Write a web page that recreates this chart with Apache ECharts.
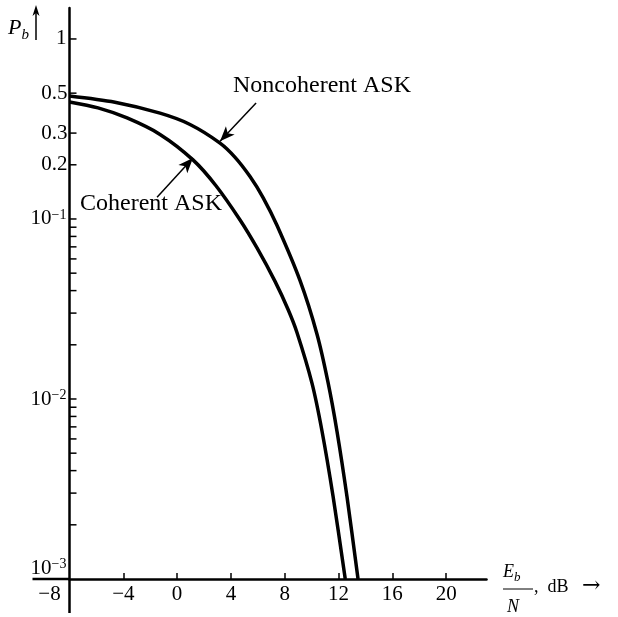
<!DOCTYPE html>
<html>
<head>
<meta charset="utf-8">
<script src="https://cdn.jsdelivr.net/npm/echarts@6/dist/echarts.min.js"></script>
<style>
html, body { margin: 0; padding: 0; background: #fff; }
#main { width: 618px; height: 617px; }
</style>
</head>
<body>
<div id="main"></div>
<script>
// Eb/N in dB and the bit error probability
var coherentDb = [-8, -5.88, -3.72, -1.27, 1.18, 2.89, 4.68, 5.94, 7.28, 8.25, 8.91, 10.03, 10.77, 11.59, 12.5];
var coherentPb = [0.447, 0.414, 0.364, 0.295, 0.213, 0.153, 0.0987, 0.069, 0.045, 0.0314, 0.0234, 0.0122, 0.00664, 0.00289, 0.001];

var noncohDb = [-8, -4.62, -1.27, 0.96, 3.19, 4.31, 5.42, 6.39, 7.43, 9.14, 10.4, 11.22, 11.89, 12.63, 13.45];
var noncohPb = [0.482, 0.445, 0.387, 0.335, 0.264, 0.22, 0.172, 0.1315, 0.0919, 0.0454, 0.0229, 0.01236, 0.00658, 0.00286, 0.001];

// axis ticks and labels
var xTicks = [-4, 0, 4, 8, 12, 16, 20];
var xLabels = [-8, -4, 0, 4, 8, 12, 16, 20];
var yTicks = [0.002, 0.003, 0.004, 0.005, 0.006, 0.007, 0.008, 0.009, 0.01,
    0.02, 0.03, 0.04, 0.05, 0.06, 0.07, 0.08, 0.09, 0.1, 0.2, 0.3, 0.5, 1];
var yExtraLabels = [0.5, 0.3, 0.2];

var FONT = 'Liberation Serif';

function pairs(xs, ys) {
    var out = [];
    for (var i = 0; i < xs.length; i++) {
        out.push([xs[i], ys[i]]);
    }
    return out;
}

var chart = echarts.init(document.getElementById('main'));

chart.setOption({
    animation: false,
    backgroundColor: '#fff',
    grid: {
        left: 69.5,
        right: 131.5,
        top: 8,
        bottom: 38,
        containLabel: false,
        outerBoundsMode: 'none'
    },
    xAxis: {
        type: 'value',
        min: -8,
        max: 23,
        interval: 4,
        splitLine: { show: false },
        axisLine: { onZero: false, lineStyle: { color: '#000', width: 2.5 } },
        axisTick: {
            show: true,
            inside: true,
            length: 6,
            customValues: xTicks,
            lineStyle: { color: '#000', width: 1.5 }
        },
        axisLabel: {
            customValues: xLabels,
            margin: 5,
            color: '#000',
            fontFamily: FONT,
            fontSize: 21,
            formatter: function (v) {
                var s = (v < 0 ? '\u2212' : '') + Math.abs(v);
                if (v === -8) {
                    return '{left|' + s + '}';
                }
                return s;
            },
            rich: {
                left: { fontFamily: FONT, fontSize: 21, color: '#000', padding: [0, 40, 0, 0] }
            }
        }
    },
    yAxis: {
        type: 'log',
        logBase: 10,
        min: 0.001,
        max: 1.486,
        splitLine: { show: false },
        axisLine: { onZero: false, lineStyle: { color: '#000', width: 2.5 } },
        axisTick: { show: false },
        axisLabel: {
            margin: 3,
            color: '#000',
            formatter: function (v) {
                var l = Math.log(v) / Math.LN10;
                var e = Math.round(l);
                if (Math.abs(l - e) > 1e-6) {
                    return '';
                }
                if (e === 0) {
                    return '{b|1}';
                }
                if (e === -3) {
                    return '{lo|10}{losup|\u2212' + (-e) + '}';
                }
                return '{b|10}{sup|\u2212' + (-e) + '}';
            },
            rich: {
                b: { fontFamily: FONT, fontSize: 21, color: '#000' },
                sup: { fontFamily: FONT, fontSize: 14, color: '#000', verticalAlign: 'top' },
                lo: { fontFamily: FONT, fontSize: 21, color: '#000', padding: [0, 0, 22, 0] },
                losup: { fontFamily: FONT, fontSize: 14, color: '#000', verticalAlign: 'top' }
            }
        }
    },
    graphic: [
        {
            type: 'text',
            left: 8,
            top: 17,
            style: {
                text: '{i|P}{s|b}',
                fill: '#000',
                rich: {
                    i: { fontFamily: FONT, fontStyle: 'italic', fontSize: 22, fill: '#000', verticalAlign: 'bottom' },
                    s: { fontFamily: FONT, fontStyle: 'italic', fontSize: 15, fill: '#000', verticalAlign: 'bottom', padding: [0, 0, -4, 0] }
                }
            }
        },
        {
            type: 'polyline',
            shape: { points: [[36, 40], [36, 10]] },
            style: { stroke: '#000', lineWidth: 1.5 }
        },
        {
            type: 'polygon',
            shape: { points: [[36, 5], [32.5, 16], [36, 13], [39.5, 16]] },
            style: { fill: '#000' }
        },
        {
            type: 'text',
            left: 503,
            top: 563,
            style: {
                text: '{i|E}{s|b}',
                fill: '#000',
                rich: {
                    i: { fontFamily: FONT, fontStyle: 'italic', fontSize: 18, fill: '#000', verticalAlign: 'bottom' },
                    s: { fontFamily: FONT, fontStyle: 'italic', fontSize: 13, fill: '#000', verticalAlign: 'bottom', padding: [0, 0, -3, 0] }
                }
            }
        },
        {
            type: 'line',
            shape: { x1: 503, y1: 589, x2: 533, y2: 589 },
            style: { stroke: '#000', lineWidth: 1 }
        },
        {
            type: 'text',
            left: 507,
            top: 598,
            style: { text: 'N', fill: '#000', font: 'italic 18px "Liberation Serif"' }
        },
        {
            type: 'text',
            left: 534,
            top: 578,
            style: { text: ',  dB', fill: '#000', font: '18px "Liberation Serif"' }
        },
        {
            type: 'text',
            left: 582,
            top: 575,
            style: { text: '\u2192', fill: '#000', font: '22px "DejaVu Serif"' }
        }
    ],
    series: [
        {
            name: 'Coherent ASK',
            type: 'line',
            smooth: 0.3,
            showSymbol: false,
            lineStyle: { color: '#000', width: 3.5 },
            data: pairs(coherentDb, coherentPb),
            markLine: {
                silent: true,
                symbol: ['none', 'arrow'],
                symbolSize: [9, 15],
                label: { show: false },
                lineStyle: { color: '#000', width: 1.5, type: 'solid' },
                data: [[{ coord: [-1.49, 0.132] }, { coord: [1.18, 0.218] }]]
            },
            markPoint: {
                silent: true,
                symbol: 'circle',
                symbolSize: 0,
                label: {
                    show: true,
                    position: 'inside',
                    formatter: 'Coherent ASK',
                    color: '#000',
                    fontFamily: FONT,
                    fontSize: 24
                },
                data: [{ coord: [-1.94, 0.121] }]
            }
        },
        {
            name: 'Noncoherent ASK',
            type: 'line',
            smooth: 0.3,
            showSymbol: false,
            lineStyle: { color: '#000', width: 3.5 },
            data: pairs(noncohDb, noncohPb),
            markLine: {
                silent: true,
                symbol: ['none', 'arrow'],
                symbolSize: [9, 15],
                label: { show: false },
                lineStyle: { color: '#000', width: 1.5, type: 'solid' },
                data: [[{ coord: [5.87, 0.441] }, { coord: [3.19, 0.27] }]]
            },
            markPoint: {
                silent: true,
                symbol: 'circle',
                symbolSize: 0,
                label: {
                    show: true,
                    position: 'inside',
                    formatter: 'Noncoherent ASK',
                    color: '#000',
                    fontFamily: FONT,
                    fontSize: 24
                },
                data: [{ coord: [10.77, 0.55] }]
            }
        },
        {
            // y axis ticks (drawn inward, at 2..9 of each decade)
            name: 'yTicks',
            type: 'custom',
            silent: true,
            clip: false,
            data: yTicks.map(function (v) { return [-8, v]; }),
            renderItem: function (params, api) {
                var p = api.coord([api.value(0), api.value(1)]);
                return {
                    type: 'line',
                    shape: { x1: p[0], y1: p[1], x2: p[0] + 7, y2: p[1] },
                    style: { stroke: '#000', lineWidth: 1.5 }
                };
            }
        },
        {
            name: 'yExtraLabels',
            type: 'custom',
            silent: true,
            clip: false,
            data: yExtraLabels.map(function (v) { return [-8, v]; }),
            renderItem: function (params, api) {
                var p = api.coord([api.value(0), api.value(1)]);
                return {
                    type: 'text',
                    x: p[0] - 2,
                    y: p[1],
                    style: {
                        text: String(yExtraLabels[params.dataIndex]),
                        fill: '#000',
                        font: '21px "Liberation Serif"',
                        align: 'right',
                        verticalAlign: 'middle'
                    }
                };
            }
        },
        {
            // the two axes run a little past their crossing point
            name: 'axisExt',
            type: 'custom',
            silent: true,
            clip: false,
            data: [[-8, 0.001]],
            renderItem: function (params, api) {
                var p = api.coord([api.value(0), api.value(1)]);
                return {
                    type: 'group',
                    children: [
                        {
                            type: 'line',
                            shape: { x1: p[0], y1: p[1], x2: p[0], y2: p[1] + 34 },
                            style: { stroke: '#000', lineWidth: 2.5 }
                        },
                        {
                            type: 'line',
                            shape: { x1: p[0], y1: p[1], x2: p[0] - 37, y2: p[1] },
                            style: { stroke: '#000', lineWidth: 2.5 }
                        }
                    ]
                };
            }
        }
    ]
});
</script>
</body>
</html>
